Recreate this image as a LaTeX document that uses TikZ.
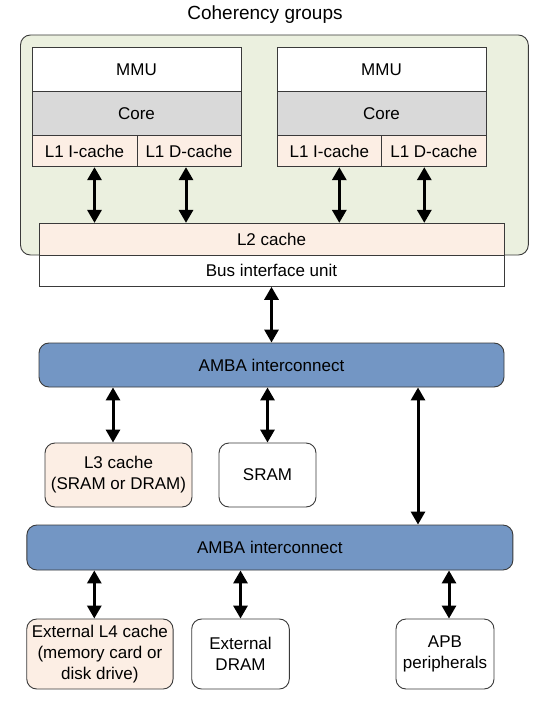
\documentclass[tikz,border=0pt]{standalone}
\usepackage{fontspec}
\setmainfont{Liberation Sans}
\usetikzlibrary{arrows.meta}

\definecolor{groupgreen}{HTML}{EBF0DF}
\definecolor{cachepeach}{HTML}{FCEEE4}
\definecolor{coregray}{HTML}{D9D9D9}
\definecolor{ambablue}{HTML}{7396C4}
\definecolor{edgegray}{HTML}{3A3A3A}

\begin{document}
\begin{tikzpicture}[x=1pt,y=-1pt,
    every node/.style={font=\fontsize{17}{21}\selectfont},
    blk/.style={draw=edgegray,line width=0.9pt,inner sep=0pt,align=center},
    rblk/.style={blk,rounded corners=10pt},
    link/.style={{Triangle[width=14pt,length=13pt]}-{Triangle[width=14pt,length=13pt]},line width=3pt}]
        \fill[white] (0,0) rectangle (546,703);

        % coherency group
        \node[rblk,fill=groupgreen,minimum width=507.8pt,minimum height=220pt] (group) at (274.4,145) {};
        \node[font=\fontsize{19}{22}\selectfont] (title) at (265,15) {Coherency groups};

        \node[blk,fill=white,minimum width=209pt,minimum height=44.5pt] (mmuA) at (136.5,69.3) {MMU};
        \node[blk,fill=coregray,minimum width=209pt,minimum height=44.2pt] (coreA) at (136.5,113.6) {Core};
        \node[blk,fill=cachepeach,minimum width=105pt,minimum height=31pt] (l1iA) at (84.5,151.2) {L1 I-cache};
        \node[blk,fill=cachepeach,minimum width=104pt,minimum height=31pt] (l1dA) at (189,151.2) {L1 D-cache};

        \node[blk,fill=white,minimum width=209pt,minimum height=44.5pt] (mmuB) at (381.5,69.3) {MMU};
        \node[blk,fill=coregray,minimum width=209pt,minimum height=44.2pt] (coreB) at (381.5,113.6) {Core};
        \node[blk,fill=cachepeach,minimum width=104.7pt,minimum height=31pt] (l1iB) at (329.3,151.2) {L1 I-cache};
        \node[blk,fill=cachepeach,minimum width=104.3pt,minimum height=31pt] (l1dB) at (433.8,151.2) {L1 D-cache};

        \node[blk,fill=cachepeach,minimum width=465pt,minimum height=31.7pt] (l2) at (271.5,239.2) {L2 cache};
        \node[blk,fill=white,minimum width=465pt,minimum height=31.3pt] (biu) at (271.5,270.7) {Bus interface unit};

        \draw[link] ([xshift=10pt]l1iA.south) -- ([xshift=10pt]l1iA.south |- l2.north);
        \draw[link] ([xshift=-3pt]l1dA.south) -- ([xshift=-3pt]l1dA.south |- l2.north);
        \draw[link] ([xshift=10pt]l1iB.south) -- ([xshift=10pt]l1iB.south |- l2.north);
        \draw[link] ([xshift=-9.5pt]l1dB.south) -- ([xshift=-9.5pt]l1dB.south |- l2.north);

        % first interconnect
        \node[rblk,fill=ambablue,minimum width=465pt,minimum height=44pt] (ambaA) at (271.5,365) {AMBA interconnect};
        \draw[link] (biu.south) -- (ambaA.north);

        \node[rblk,fill=cachepeach,minimum width=147pt,minimum height=64pt] (l3) at (118.5,475) {L3 cache\\(SRAM or DRAM)};
        \node[rblk,fill=white,minimum width=97pt,minimum height=64pt] (sram) at (267.5,475) {SRAM};
        \draw[link] ([xshift=-5.5pt]l3.north |- ambaA.south) -- ([xshift=-5.5pt]l3.north);
        \draw[link] (sram.north |- ambaA.south) -- (sram.north);

        % second interconnect
        \node[rblk,fill=ambablue,minimum width=486pt,minimum height=45pt] (ambaB) at (269.9,547.5) {AMBA interconnect};
        \draw[link] ([xshift=146.5pt]ambaA.south) -- ([xshift=146.5pt]ambaA.south |- ambaB.north);

        \node[rblk,fill=cachepeach,minimum width=146.3pt,minimum height=70pt] (l4) at (99.9,654) {External L4 cache\\(memory card or\\disk drive)};
        \node[rblk,fill=white,minimum width=97.6pt,minimum height=70pt] (dram) at (240.5,654) {External\\DRAM};
        \node[rblk,fill=white,minimum width=98pt,minimum height=70pt] (apb) at (445,654) {APB\\peripherals};
        \draw[link] ([xshift=-5.6pt]l4.north |- ambaB.south) -- ([xshift=-5.6pt]l4.north);
        \draw[link] (dram.north |- ambaB.south) -- (dram.north);
        \draw[link] ([xshift=4pt]apb.north |- ambaB.south) -- ([xshift=4pt]apb.north);
      \end{tikzpicture}
\end{document}
